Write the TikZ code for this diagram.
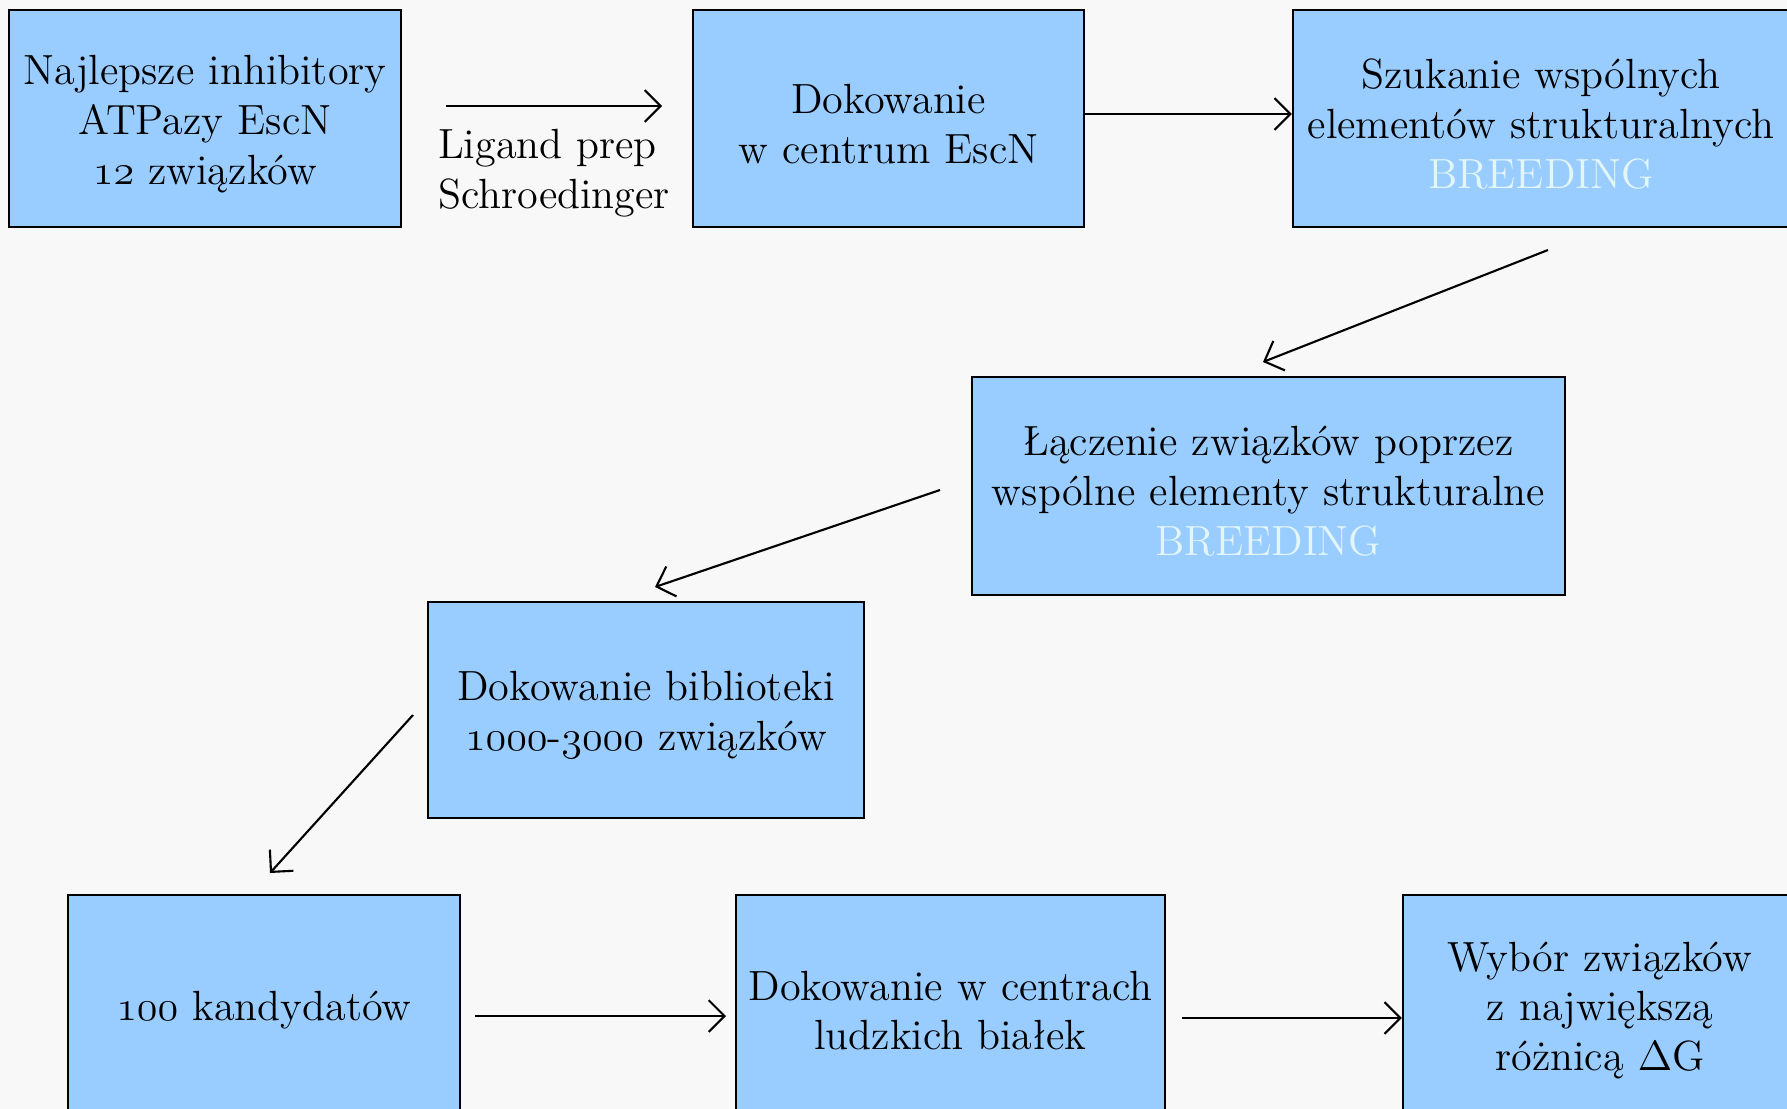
\documentclass[tikz,border=0pt]{standalone}
\usepackage{fontspec}
\usetikzlibrary{positioning}
\usetikzlibrary{arrows.meta}
\definecolor{boxblue}{HTML}{99CCFF}
\definecolor{breedcol}{HTML}{E2F5F7}
\definecolor{bgcol}{HTML}{F8F8F8}
\tikzset{stage/.style={draw=black,fill=boxblue,line width=0.6pt,align=center,inner sep=2pt,minimum width=#1,text width=#1-0.15cm,font=\fontsize{12}{14.2}\selectfont,execute at begin node={\rule{0pt}{11.5pt}}}}
\tikzset{lbl/.style={align=left,font=\fontsize{12}{14.2}\selectfont}}
\tikzset{>={Straight Barb[length=4.5pt,width=9pt]}}
\newcommand{\breed}{\textcolor{breedcol}{BREEDING}}
\newcommand{\osn}[1]{{\usefont{OML}{cmm}{m}{it}#1}}

\begin{document}
\begin{tikzpicture}[x=0.01cm, y=-0.01cm, line width=0.6pt]
        \fill[bgcol] (0,0) rectangle (1787,1109);
        \useasboundingbox (0,0) rectangle (1787,1109);
        % top row
        \node[stage=3.92cm, minimum height=2.17cm] (Inh) at (205,118.5) {Najlepsze inhibitory\\ATPazy EscN\\\osn{12} związków};
        \node[stage=3.91cm, minimum height=2.17cm] (DockE) at (888.5,118.5) {Dokowanie\\w centrum EscN};
        \node[stage=4.96cm, minimum height=2.17cm] (Search) at (1541,118.5) {Szukanie wspólnych\\elementów strukturalnych\\\breed};
        % middle
        \node[stage=5.93cm, minimum height=2.18cm] (Join) at (1268.5,486) {Łączenie związków poprzez\\wspólne elementy strukturalne\\\breed};
        \node[stage=4.36cm, minimum height=2.16cm] (Lib) at (646,710) {Dokowanie biblioteki\\\osn{1000}-\osn{3000} związków};
        % bottom row
        \node[stage=3.92cm, minimum height=2.2cm] (Cand) at (264,1005) {\osn{100} kandydatów};
        \node[stage=4.29cm, minimum height=2.2cm] (DockH) at (950.5,1005) {Dokowanie w centrach\\ludzkich białek};
        \node[stage=3.94cm, minimum height=2.2cm] (Sel) at (1600,1005) {Wybór związków\\z największą\\różnicą $\Delta$G};
        % arrow ends
        \coordinate (P1) at (446,106);
        \coordinate (P2) at (662,106);
        \coordinate (S1) at (1548,250);
        \coordinate (S2) at (1263,362);
        \coordinate (J1) at (940,490);
        \coordinate (J2) at (655,587);
        \coordinate (L1) at (413,715);
        \coordinate (L2) at (270,873);
        \coordinate (C1) at (475,1016);
        \coordinate (C2) at (726,1016);
        \coordinate (H1) at (1182,1018);
        \draw[->] (P1) -- (P2) node[lbl, midway, below=3pt] (Prep) {Ligand prep\\Schroedinger};
        \draw[->] (DockE.east |- 0,114) -- (Search.west |- 0,114);
        \draw[->] (S1) -- (S2);
        \draw[->] (J1) -- (J2);
        \draw[->] (L1) -- (L2);
        \draw[->] (C1) -- (C2);
        \draw[->] (H1) -- (Sel.west |- H1);
    \end{tikzpicture}
\end{document}
